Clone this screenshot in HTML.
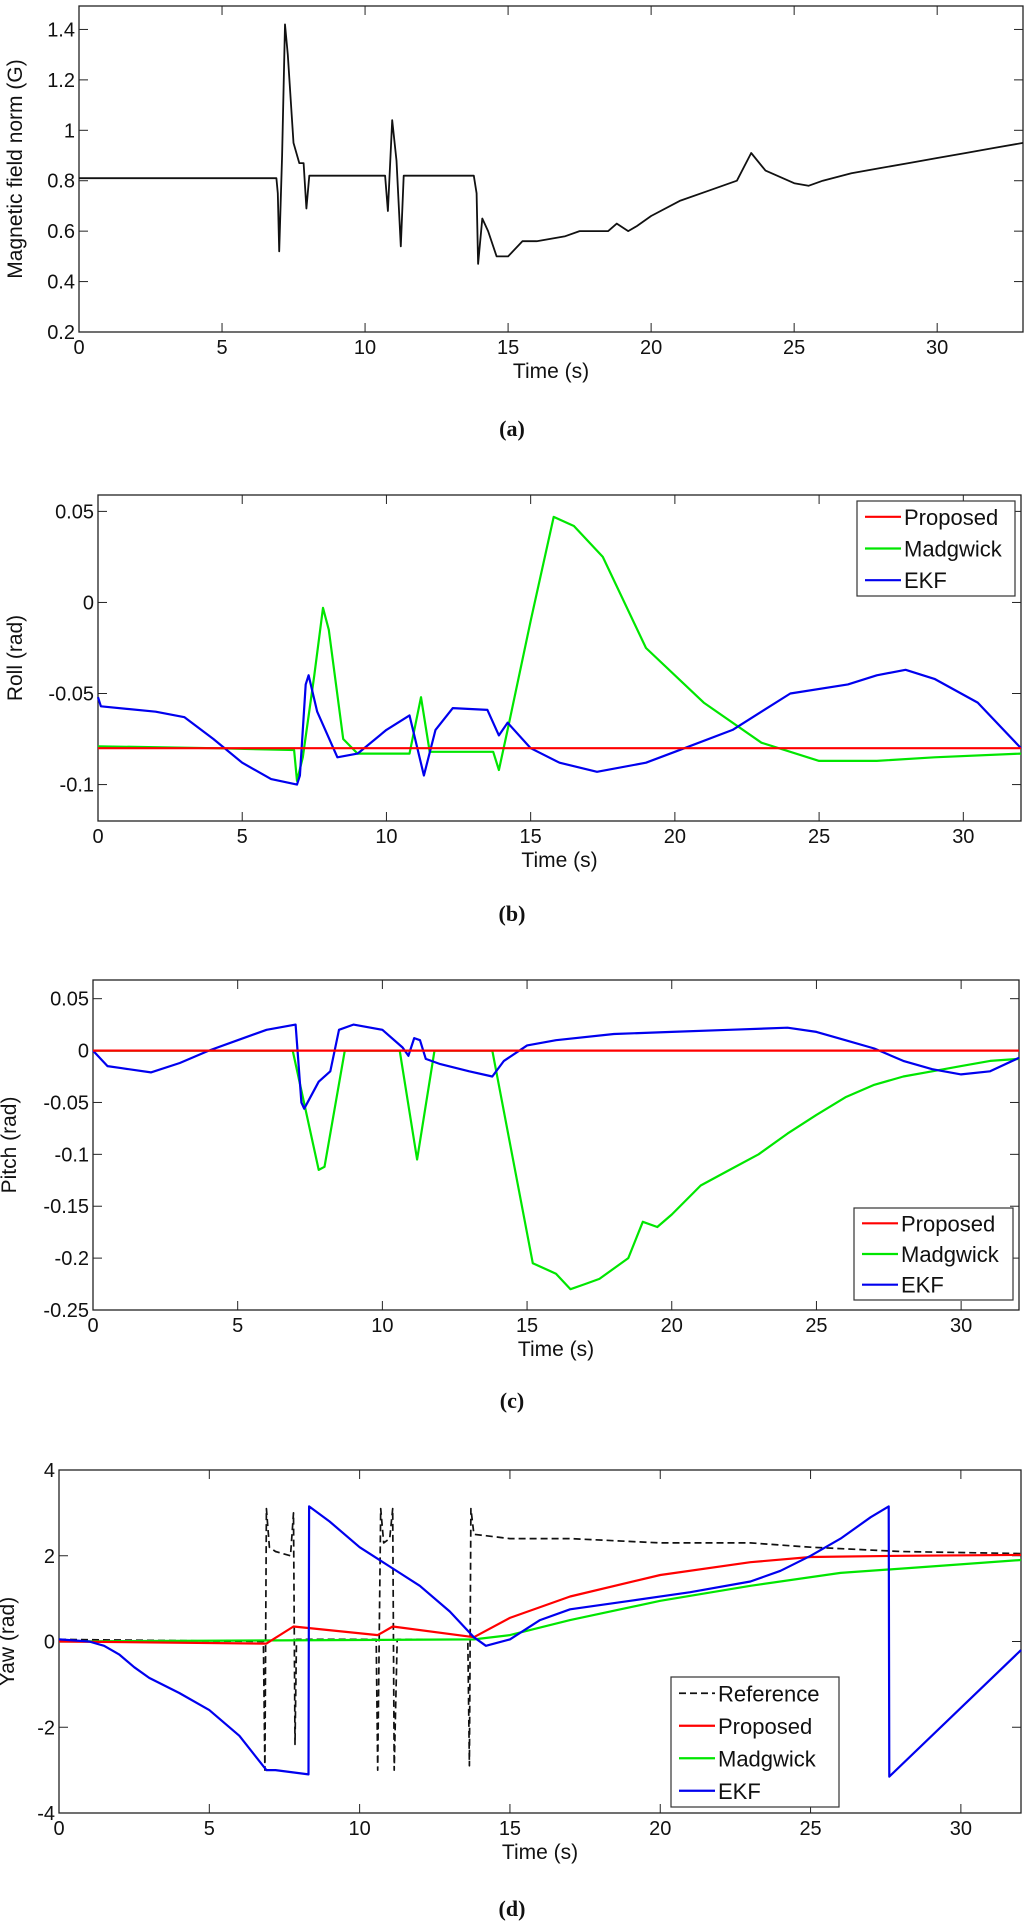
<!DOCTYPE html>
<html><head><meta charset="utf-8">
<style>
html,body{margin:0;padding:0;background:#fff;}
svg{display:block;}
</style></head>
<body>
<svg id="fig" width="1024" height="1927" viewBox="0 0 1024 1927" xmlns="http://www.w3.org/2000/svg" font-family="'Liberation Sans', sans-serif"></svg>
<script>
// ---- Panel (a) magnetic field norm ----
const magT = [0,6.9,6.95,7.0,7.1,7.2,7.3,7.5,7.7,7.85,7.95,8.05,10.7,10.8,10.95,11.1,11.25,11.35,13.8,13.9,13.95,14.1,14.3,14.6,15,15.5,16,16.5,17,17.5,18,18.5,18.8,19.2,19.5,20,21,22,23,23.5,24,25,25.5,26,27,28,29,30,31,32,33];
const magV = [0.81,0.81,0.75,0.52,0.9,1.42,1.3,0.95,0.87,0.87,0.69,0.82,0.82,0.68,1.04,0.88,0.54,0.82,0.82,0.75,0.47,0.65,0.6,0.5,0.5,0.56,0.56,0.57,0.58,0.6,0.6,0.6,0.63,0.6,0.62,0.66,0.72,0.76,0.8,0.91,0.84,0.79,0.78,0.8,0.83,0.85,0.87,0.89,0.91,0.93,0.95];
const magYTicks = [0.2,0.4,0.6,0.8,1,1.2,1.4];
const magYLabels = ["0.2","0.4","0.6","0.8","1","1.2","1.4"];
const xTicksA = [0,5,10,15,20,25,30];
const xTicks = [0,5,10,15,20,25,30];

// ---- Panel (b) roll ----
const rollPropT = [0,32];
const rollPropV = [-0.08,-0.08];
const rollMadT = [0,4,6.8,6.9,7.1,7.5,7.8,8.0,8.5,9,10.8,11.2,11.5,13.7,13.9,14.2,15,15.8,16.5,17.5,19,21,23,25,27,29,32];
const rollMadV = [-0.079,-0.08,-0.081,-0.098,-0.085,-0.04,-0.003,-0.015,-0.075,-0.083,-0.083,-0.052,-0.082,-0.082,-0.092,-0.07,-0.01,0.047,0.042,0.025,-0.025,-0.055,-0.077,-0.087,-0.087,-0.085,-0.083];
const rollEkfT = [0,0.1,2,3,4,5,6,6.9,7.0,7.2,7.3,7.6,8.3,9,10,10.8,11.3,11.7,12.3,13.5,13.9,14.2,15,16,17.3,19,20,22,24,26,27,28,29,30.5,32];
const rollEkfV = [-0.052,-0.057,-0.06,-0.063,-0.075,-0.088,-0.097,-0.1,-0.095,-0.045,-0.04,-0.06,-0.085,-0.083,-0.07,-0.062,-0.095,-0.07,-0.058,-0.059,-0.073,-0.066,-0.08,-0.088,-0.093,-0.088,-0.082,-0.07,-0.05,-0.045,-0.04,-0.037,-0.042,-0.055,-0.08];
const rollYTicks = [-0.1,-0.05,0,0.05];
const rollYLabels = ["-0.1","-0.05","0","0.05"];

// ---- Panel (c) pitch ----
const pitchPropT = [0,32];
const pitchPropV = [0,0];
const pitchMadT = [0,6.9,7.8,8.0,8.7,10.6,11.2,11.8,13.8,15.2,16,16.5,17,17.5,18.5,19,19.5,20,21,22,23,24,25,26,27,28,29,30,31,32];
const pitchMadV = [0,0,-0.115,-0.112,0,0,-0.105,0,0,-0.205,-0.215,-0.23,-0.225,-0.22,-0.2,-0.165,-0.17,-0.158,-0.13,-0.115,-0.1,-0.08,-0.062,-0.045,-0.033,-0.025,-0.02,-0.015,-0.01,-0.008];
const pitchEkfT = [0,0.5,1,2,3,4,5,6,7,7.2,7.3,7.8,8.2,8.5,9,10,10.7,10.9,11.1,11.3,11.5,12,13,13.8,14.2,15,16,18,20,22,24,25,26,27,28,29,30,31,32];
const pitchEkfV = [0,-0.015,-0.017,-0.021,-0.012,0,0.01,0.02,0.025,-0.05,-0.056,-0.03,-0.02,0.02,0.025,0.02,0.003,-0.005,0.012,0.01,-0.008,-0.013,-0.02,-0.025,-0.01,0.005,0.01,0.016,0.018,0.02,0.022,0.018,0.01,0.002,-0.01,-0.018,-0.023,-0.02,-0.007];
const pitchYTicks = [-0.25,-0.2,-0.15,-0.1,-0.05,0,0.05];
const pitchYLabels = ["-0.25","-0.2","-0.15","-0.1","-0.05","0","0.05"];

// ---- Panel (d) yaw ----
const yawRefT = [0,6.8,6.85,6.9,7.0,7.2,7.7,7.8,7.85,7.9,10.55,10.6,10.7,10.8,11.0,11.1,11.15,11.25,13.6,13.65,13.7,13.8,15,17,20,23,25,28,32];
const yawRefV = [0.05,0,-3.0,3.1,2.2,2.1,2.0,3.0,-2.4,0.05,0.05,-3.0,3.1,2.3,2.4,3.1,-3.0,0.05,0.05,-2.9,3.1,2.5,2.4,2.4,2.3,2.3,2.2,2.1,2.05];
const yawPropT = [0,6.9,7.8,10.6,11.1,13.8,15,17,20,23,25,28,32];
const yawPropV = [0,-0.05,0.35,0.15,0.35,0.1,0.55,1.05,1.55,1.85,1.97,2.0,2.02];
const yawMadT = [0,13.8,15,17,20,23,26,29,32];
const yawMadV = [0,0.05,0.15,0.5,0.95,1.3,1.6,1.75,1.9];
const yawEkfT = [0,1,1.5,2,2.5,3,4,5,6,6.9,7.2,8.3,8.32,9,10,11,12,13,13.8,14.2,15,16,17,19,21,23,24,25,26,27,27.6,27.62,32];
const yawEkfV = [0.05,0,-0.1,-0.3,-0.6,-0.85,-1.2,-1.6,-2.2,-3.0,-3.0,-3.1,3.15,2.8,2.2,1.75,1.3,0.7,0.1,-0.1,0.05,0.5,0.75,0.95,1.15,1.4,1.65,2.0,2.4,2.9,3.15,-3.15,-0.2];
const yawYTicks = [-4,-2,0,2,4];
const yawYLabels = ["-4","-2","0","2","4"];

const NS = "http://www.w3.org/2000/svg";
const fig = document.getElementById('fig');
function mk(tag, attrs, parent){
  const e = document.createElementNS(NS, tag);
  for (const k in attrs) e.setAttribute(k, attrs[k]);
  (parent||fig).appendChild(e);
  return e;
}

function panel(p){
  const g = mk('g', {});
  
  
  const sx = v => p.L + (v - p.x0) / (p.x1 - p.x0) * (p.R - p.L);
  const sy = v => p.B - (v - p.y0) / (p.y1 - p.y0) * (p.B - p.T);
  // frame
  const fr = mk('rect', {x:p.L, y:p.T, width:p.R-p.L, height:p.B-p.T, fill:'#fff', stroke:'#222', 'stroke-width':1.3}, g);
  
  
  // x ticks
  p.xt.forEach(t => {
    const x = sx(t);
    mk('line', {x1:x, y1:p.B, x2:x, y2:p.B-9, stroke:'#222', 'stroke-width':1}, g);
    mk('line', {x1:x, y1:p.T, x2:x, y2:p.T+9, stroke:'#222', 'stroke-width':1}, g);
    const tx = mk('text', {x:x, y:p.B+22, 'font-size':20, 'text-anchor':'middle', fill:'#111'}, g);
    tx.textContent = String(t);
    
    
  });
  p.yt.forEach((t, i) => {
    const y = sy(t);
    mk('line', {x1:p.L, y1:y, x2:p.L+9, y2:y, stroke:'#222', 'stroke-width':1}, g);
    mk('line', {x1:p.R, y1:y, x2:p.R-9, y2:y, stroke:'#222', 'stroke-width':1}, g);
    const ty = mk('text', {x:p.L-4, y:y+7, 'font-size':20, 'text-anchor':'end', fill:'#111'}, g);
    ty.textContent = p.yl[i];
    
    
  });
  // series
  p.series.forEach(s => {
    let d = '';
    s.t.forEach((t, i) => { d += (i ? 'L' : 'M') + sx(t).toFixed(1) + ',' + sy(s.v[i]).toFixed(1); });
    const path = mk('path', {d:d, fill:'none', stroke:s.c, 'stroke-width':s.w||2.2, 'stroke-linejoin':'round'}, g);
    if (s.dash) path.setAttribute('stroke-dasharray', s.dash);
    
    
  });
  // x-axis title
  const xl = mk('text', {x:(p.L+p.R)/2, y:p.B+46, 'font-size':21, 'text-anchor':'middle', fill:'#111'}, g);
  xl.textContent = 'Time (s)';
  
  
  const yl = mk('text', {x:p.ylx, y:(p.T+p.B)/2, 'font-size':21, 'text-anchor':'middle', fill:'#111', transform:'rotate(-90 '+p.ylx+' '+((p.T+p.B)/2)+')'}, g);
  yl.textContent = p.ytitle;
  
  
  const cap = mk('text', {x:512, y:p.capY, 'font-size':22, 'font-weight':'bold', 'text-anchor':'middle', 'font-family':"'Liberation Serif', serif", fill:'#111'}, g);
  cap.textContent = p.cap;
  
  
  // legend
  if (p.leg){
    const lg = mk('g', {}, g);
    
    
    mk('rect', {x:p.leg.x, y:p.leg.y, width:p.leg.w, height:p.leg.h, fill:'#fff', stroke:'#333', 'stroke-width':1.2}, lg);
    const n = p.series.length;
    const step = p.leg.h / n;
    p.legOrder.forEach((s, i) => {
      const cy = p.leg.y + step*(i+0.5);
      const ln = mk('line', {x1:p.leg.x+8, y1:cy, x2:p.leg.x+44, y2:cy, stroke:s.c, 'stroke-width':s.w||2.2}, lg);
      if (s.dash) ln.setAttribute('stroke-dasharray', s.dash);
      
      
      const tt = mk('text', {x:p.leg.x+47, y:cy+8, 'font-size':22, fill:'#111'}, lg);
      tt.textContent = s.label;
      
      
    });
  }
}

const RED='#ff0000', GRN='#00e600', BLU='#0000ee';

panel({name:'mag', L:79, R:1023, T:6, B:332, x0:0, x1:33, y0:0.2, y1:1.493,
  xt:xTicksA, yt:magYTicks, yl:magYLabels, ytitle:'Magnetic field norm (G)', ylx:22, cap:'(a)', capY:436,
  series:[{n:'norm', t:magT, v:magV, c:'#111', w:1.8}]});

const rollSeries = [
  {n:'madgwick', label:'Madgwick', t:rollMadT, v:rollMadV, c:GRN},
  {n:'ekf', label:'EKF', t:rollEkfT, v:rollEkfV, c:BLU},
  {n:'proposed', label:'Proposed', t:rollPropT, v:rollPropV, c:RED}];
panel({name:'roll', L:98, R:1021, T:495, B:821, x0:0, x1:32, y0:-0.12, y1:0.059,
  xt:xTicks, yt:rollYTicks, yl:rollYLabels, ytitle:'Roll (rad)', ylx:22, cap:'(b)', capY:921,
  series:rollSeries, legOrder:[rollSeries[2], rollSeries[0], rollSeries[1]],
  leg:{x:857, y:501, w:158, h:95}});

const pitchSeries = [
  {n:'madgwick', label:'Madgwick', t:pitchMadT, v:pitchMadV, c:GRN},
  {n:'ekf', label:'EKF', t:pitchEkfT, v:pitchEkfV, c:BLU},
  {n:'proposed', label:'Proposed', t:pitchPropT, v:pitchPropV, c:RED}];
panel({name:'pitch', L:93, R:1019, T:980, B:1310, x0:0, x1:32, y0:-0.25, y1:0.068,
  xt:xTicks, yt:pitchYTicks, yl:pitchYLabels, ytitle:'Pitch (rad)', ylx:16, cap:'(c)', capY:1408,
  series:pitchSeries, legOrder:[pitchSeries[2], pitchSeries[0], pitchSeries[1]],
  leg:{x:854, y:1208, w:159, h:92}});

const yawSeries = [
  {n:'reference', label:'Reference', t:yawRefT, v:yawRefV, c:'#111', w:1.7, dash:'7,4'},
  {n:'madgwick', label:'Madgwick', t:yawMadT, v:yawMadV, c:GRN},
  {n:'proposed', label:'Proposed', t:yawPropT, v:yawPropV, c:RED},
  {n:'ekf', label:'EKF', t:yawEkfT, v:yawEkfV, c:BLU}];
panel({name:'yaw', L:59, R:1021, T:1470, B:1813, x0:0, x1:32, y0:-4, y1:4,
  xt:xTicks, yt:yawYTicks, yl:yawYLabels, ytitle:'Yaw (rad)', ylx:14, cap:'(d)', capY:1916,
  series:yawSeries, legOrder:[yawSeries[0], yawSeries[2], yawSeries[1], yawSeries[3]],
  leg:{x:671, y:1677, w:168, h:130}});
</script>
</body></html>
